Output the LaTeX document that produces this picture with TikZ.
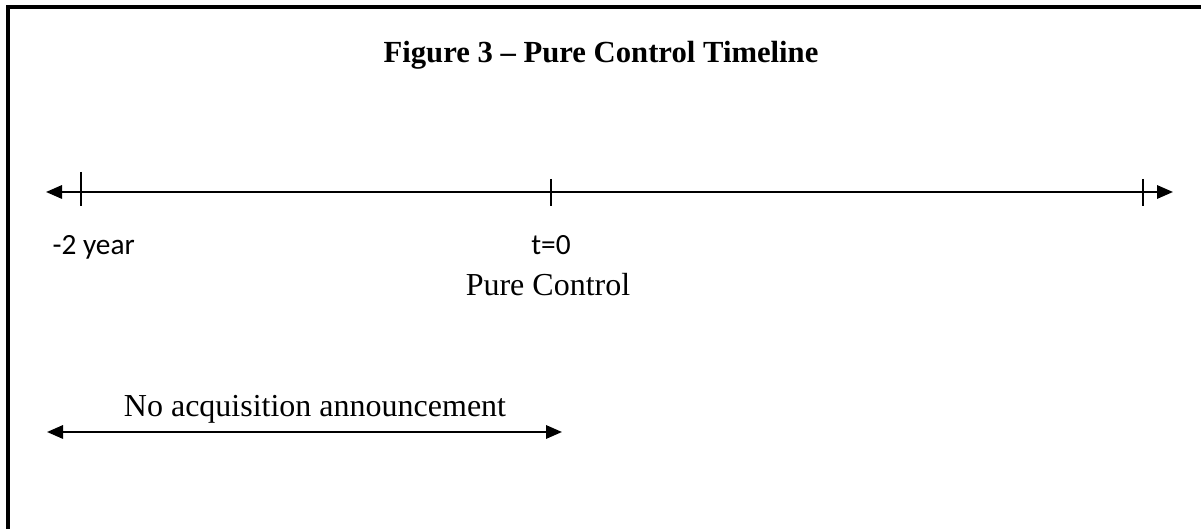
\documentclass[tikz,border=0pt]{standalone}
\usepackage{fontspec}
\setmainfont{Liberation Serif}
\newfontfamily\calibri{Carlito}
\usetikzlibrary{arrows.meta}

\tikzset{
    lbl/.style={draw=none, inner sep=0pt, anchor=base, font=\fontsize{12}{14}\selectfont},
    axlbl/.style={draw=none, inner sep=0pt, anchor=base, font=\calibri\fontsize{11}{13}\selectfont},
    tick/.style={line width=0.5pt},
    tip/.style={{Triangle[length=6pt,width=5pt]}-{Triangle[length=6pt,width=5pt]}, line width=0.8pt},
}

\begin{document}
\begin{tikzpicture}[x=0.375pt, y=-0.375pt]

\useasboundingbox (0,0) rectangle (1201,529);

% frame
\draw [line width=1.5pt] (8,540) -- (8,7) -- (1210,7);

\path (601,63) node[lbl, font=\bfseries\fontsize{11.5}{14}\selectfont] (title) {Figure 3 -- Pure Control Timeline};

% timeline
\coordinate (l) at (46,192);
\coordinate (r) at (1173,192);
\draw [tip] (l) -- (r);

\foreach \x/\y/\n in {81/172/a, 551/179/b, 1143/179/c}
{
    \coordinate (\n top) at (\x,\y);
    \coordinate (\n bot) at (\x,206);
    \draw [tick] (\n top) -- (\n bot);
}

\path (52,255) node[axlbl, anchor=base west] (start) {-2 year};
\path (551,255) node[axlbl] (t0) {t=0};
\path (548,296) node[lbl] (pure) {Pure Control};

% window
\path (315,417) node[lbl] (window) {No acquisition announcement};
\coordinate (wl) at (47,432);
\coordinate (wr) at (562,432);
\draw [tip] (wl) -- (wr);

\end{tikzpicture}
\end{document}
